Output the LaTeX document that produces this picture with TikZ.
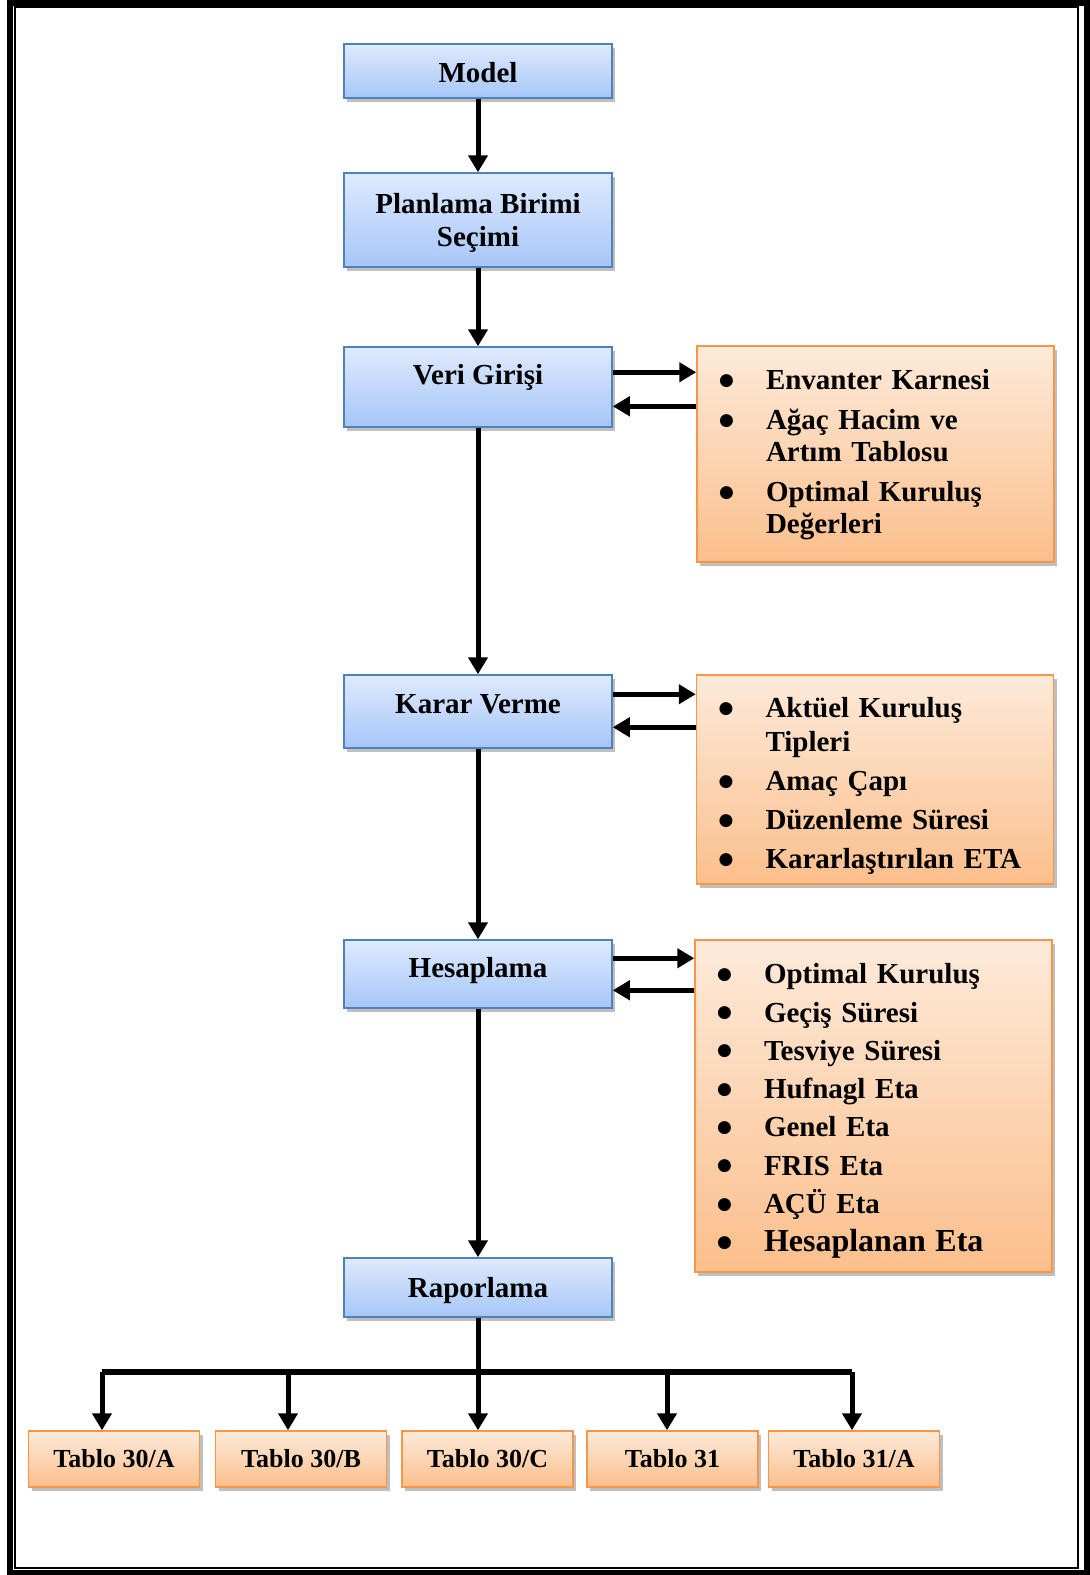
\documentclass[tikz,border=0pt]{standalone}
\usepackage{fontspec}
\setmainfont{Liberation Serif}
\newfontfamily\symfont{DejaVu Sans}
\usepackage{xcolor}
\usepackage{tikz}
\usetikzlibrary{arrows.meta, positioning, shadows}

% bullet line with hanging indent
\newcommand{\bigdot}{\raisebox{4.5pt}{\symfont\fontsize{17}{17}\selectfont ●}}
\newcommand{\bitem}[1]{\par\noindent\hangindent=48pt\hangafter=1\makebox[48pt][l]{\hspace{1pt}\bigdot}#1}
% extra space under the last line
\newcommand{\lift}[1]{\par\vspace{#1}\hrule height 0pt}

\begin{document}
\begin{tikzpicture}[x=1pt, y=-1pt, >=Stealth,
			process/.style={draw=blueline, line width=1.5pt, top color=bluetop, bottom color=bluebot,
				minimum width=268pt, minimum height=#1, inner sep=0pt, align=center,
				font=\fontsize{29}{33}\selectfont\bfseries,
				drop shadow={shadow xshift=3pt, shadow yshift=-4pt, fill=black, opacity=0.25}},
			info/.style={draw=orangeline, line width=1.5pt, top color=orangetop, bottom color=orangebot,
				minimum width=357pt, minimum height=#1, inner xsep=21pt, inner ysep=0pt, text width=315pt,
				font=\fontsize{29}{32}\selectfont\bfseries,
				drop shadow={shadow xshift=3pt, shadow yshift=-4pt, fill=black, opacity=0.25}},
			tablo/.style={draw=orangeline, line width=1.5pt, top color=orangetop, bottom color=orangebot,
				minimum width=171pt, minimum height=56pt, inner sep=0pt, text height=17pt, text depth=0pt,
				font=\fontsize{26}{30}\selectfont\bfseries,
				drop shadow={shadow xshift=3pt, shadow yshift=-4pt, fill=black, opacity=0.25}},
			link/.style={line width=5pt, -{Triangle[length=17pt, width=19pt]}}
			]
			
			% Define colors
			\definecolor{bluetop}{RGB}{223,234,253}
			\definecolor{bluebot}{RGB}{166,198,248}
			\definecolor{blueline}{RGB}{79,129,189}
			\definecolor{orangetop}{RGB}{253,234,218}
			\definecolor{orangebot}{RGB}{251,191,140}
			\definecolor{orangeline}{RGB}{247,150,70}
			
			\useasboundingbox (0,0) rectangle (1090,1575);
			
			% 1. Page frame
			\draw[line width=6pt] (10,2.5) rectangle (1086.5,1572.5);
			\draw[line width=2pt] (15,7) rectangle (1078,1568);
			
			% 2. Main steps
			\node[process=54pt, text height=23pt, text depth=0pt] (model) at (478,71) {Model};
			\node[process=94pt, text depth=0pt] (plan) at (478,220) {Planlama Birimi\\Seçimi};
			\node[process=80pt, text height=19pt, text depth=24pt] (veri) at (478,387) {Veri Girişi};
			\node[process=73pt, text height=19pt, text depth=15pt] (karar) at (478,711.5) {Karar Verme};
			\node[process=68pt, text height=19pt, text depth=12pt] (hesap) at (478,974) {Hesaplama};
			\node[process=59pt, text height=19pt, text depth=0pt] (rapor) at (478,1287.5) {Raporlama};
			
			\draw[link] (model) -- (plan);
			\draw[link] (plan) -- (veri);
			\draw[link] (veri) -- (karar);
			\draw[link] (karar) -- (hesap);
			\draw[link] (hesap) -- (rapor);
			
			% 3. Side boxes
			\node[info=216pt] (girdi) at (875.5,454) {\raggedright\parskip=8pt
				\bitem{Envanter Karnesi}
				\bitem{Ağaç Hacim ve\newline Artım Tablosu}
				\bitem{Optimal Kuruluş\newline Değerleri}\lift{18pt}};
			\node[info=209pt, font=\fontsize{29}{34}\selectfont\bfseries] (secim) at (875,779.5) {\raggedright\parskip=5pt
				\bitem{Aktüel Kuruluş\newline Tipleri}
				\bitem{Amaç Çapı}
				\bitem{Düzenleme Süresi}
				\bitem{Kararlaştırılan ETA}\lift{6pt}};
			\node[info=332pt, font=\fontsize{29}{38.3}\selectfont\bfseries] (sonuc) at (873.5,1106) {\raggedright
				\bitem{Optimal Kuruluş}
				\bitem{Geçiş Süresi}
				\bitem{Tesviye Süresi}
				\bitem{Hufnagl Eta}
				\bitem{Genel Eta}
				\bitem{FRIS Eta}
				\bitem{AÇÜ Eta}
				\bitem{\fontsize{32}{38.3}\selectfont Hesaplanan Eta}\lift{8pt}};
			
			% two-way links
			\draw[link] ([yshift=-26pt]veri.north east) -- ([yshift=-26pt]veri.north east -| girdi.west);
			\draw[link] ([yshift=-60pt]veri.north east -| girdi.west) -- ([yshift=-60pt]veri.north east);
			\draw[link] ([yshift=-20pt]karar.north east) -- ([yshift=-20pt]karar.north east -| secim.west);
			\draw[link] ([yshift=-53pt]karar.north east -| secim.west) -- ([yshift=-53pt]karar.north east);
			\draw[link] ([yshift=-19pt]hesap.north east) -- ([yshift=-19pt]hesap.north east -| sonuc.west);
			\draw[link] ([yshift=-51pt]hesap.north east -| sonuc.west) -- ([yshift=-51pt]hesap.north east);
			
			% 4. Report tables
			\node[tablo] (tA) at (114,1459) {Tablo 30/A};
			\node[tablo] (tB) at (301,1459) {Tablo 30/B};
			\node[tablo] (tC) at (487.5,1459) {Tablo 30/C};
			\node[tablo] (tD) at (672.5,1459) {Tablo 31};
			\node[tablo] (tE) at (854,1459) {Tablo 31/A};
			
			\coordinate (b1) at (102,1372);
			\coordinate (b2) at (288,1372);
			\coordinate (b4) at (667,1372);
			\coordinate (b5) at (852,1372);
			
			\draw[line width=6pt] (b1) -- (b5);
			\draw[link] (rapor) -- (rapor.south |- tC.north);
			\foreach \b/\t in {b1/tA, b2/tB, b4/tD, b5/tE} {
				\draw[link] (\b) -- (\b |- \t.north);
			}
			
		\end{tikzpicture}
\end{document}
